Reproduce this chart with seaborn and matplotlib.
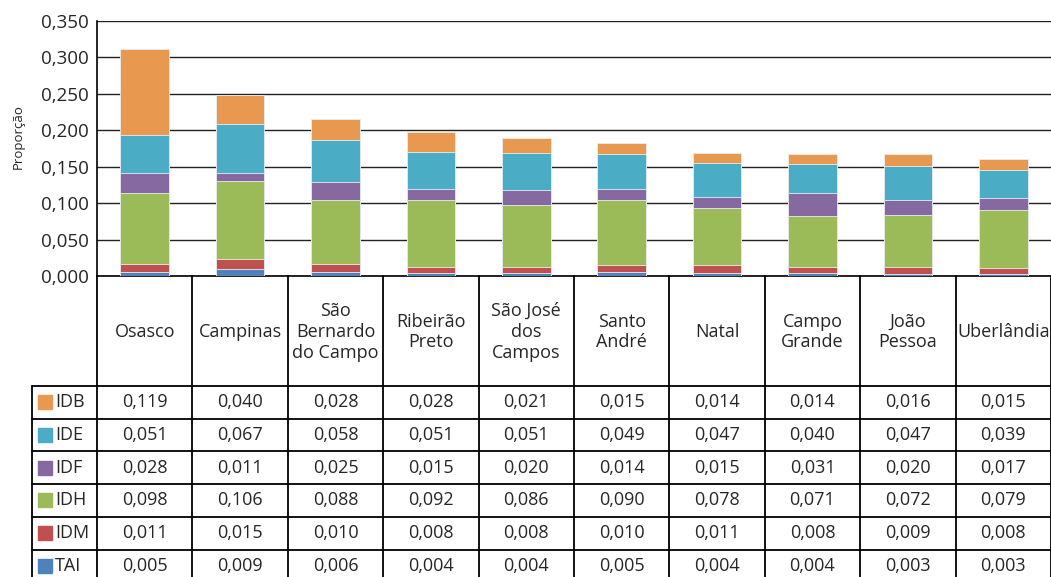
import numpy as np
import matplotlib
matplotlib.use("Agg")
import matplotlib.pyplot as plt
import seaborn as sns
from matplotlib.patches import Rectangle

# ---- Dados ----
CIDADES = ["Osasco", "Campinas", "São Bernardo do Campo", "Ribeirão Preto",
           "São José dos Campos", "Santo André", "Natal", "Campo Grande",
           "João Pessoa", "Uberlândia"]
ROTULOS = ["Osasco", "Campinas", "São\nBernardo\ndo Campo", "Ribeirão\nPreto",
           "São José\ndos\nCampos", "Santo\nAndré", "Natal", "Campo\nGrande",
           "João\nPessoa", "Uberlândia"]

TAI = [0.005, 0.009, 0.006, 0.004, 0.004, 0.005, 0.004, 0.004, 0.003, 0.003]
IDM = [0.011, 0.015, 0.010, 0.008, 0.008, 0.010, 0.011, 0.008, 0.009, 0.008]
IDH = [0.098, 0.106, 0.088, 0.092, 0.086, 0.090, 0.078, 0.071, 0.072, 0.079]
IDF = [0.028, 0.011, 0.025, 0.015, 0.020, 0.014, 0.015, 0.031, 0.020, 0.017]
IDE = [0.051, 0.067, 0.058, 0.051, 0.051, 0.049, 0.047, 0.040, 0.047, 0.039]
IDB = [0.119, 0.040, 0.028, 0.028, 0.021, 0.015, 0.014, 0.014, 0.016, 0.015]

# de baixo para cima
SERIES = ["TAI", "IDM", "IDH", "IDF", "IDE", "IDB"]
VALORES = [TAI, IDM, IDH, IDF, IDE, IDB]
CORES = ["#4F81BD", "#C0504D", "#9BBB59", "#8569A0", "#4BACC6", "#E8994F"]

YTICKS = [0.0, 0.05, 0.10, 0.15, 0.20, 0.25, 0.30, 0.35]

W, H = 1051, 577
sns.set_style("white")
plt.rcParams["font.family"] = ["Open Sans", "DejaVu Sans"]
FS = 13

fig = plt.figure(figsize=(W / 100, H / 100), dpi=100)

# ---- Grafico de barras empilhadas ----
x0, x1, y_top, y_bot = 97, 1051, 21, 276
ax = fig.add_axes([x0 / W, (H - y_bot) / H, (x1 - x0) / W, (y_bot - y_top) / H])

acum = np.cumsum(np.array(VALORES), axis=0)
for i in range(len(SERIES) - 1, -1, -1):
    sns.barplot(x=CIDADES, y=acum[i], order=CIDADES, color=CORES[i],
                saturation=1, width=0.51, edgecolor="#e8eef0", linewidth=0.6,
                ax=ax, zorder=3)

ax.set_xlim(-0.5, 9.5)
ax.set_ylim(0, 0.35)
ax.set_yticks(YTICKS)
ax.set_yticklabels([f"{v:.3f}".replace(".", ",") for v in YTICKS], fontsize=13.5)
ax.tick_params(axis="y", length=0, pad=6)
ax.set_xticks([])
ax.set_xlabel("")
ax.set_ylabel("Proporção", fontsize=9.5, va="center")
ax.yaxis.set_label_coords((18 - x0) / (x1 - x0), (y_bot - 137) / (y_bot - y_top))
ax.yaxis.grid(True, color="#222222", linewidth=1)
ax.set_axisbelow(True)
for s in ["right", "top"]:
    ax.spines[s].set_visible(False)
ax.spines["left"].set_color("black")
ax.spines["bottom"].set_color("black")
ax.spines["left"].set_linewidth(1.2)
ax.spines["bottom"].set_linewidth(1.2)

# ---- Tabela ----
ov = fig.add_axes([0, 0, 1, 1])
ov.set_xlim(0, W)
ov.set_ylim(H, 0)
ov.axis("off")

col_w = (x1 - x0) / 10
header_bot = 386
row_h = 32.7
n_rows = len(SERIES)
table_bot = header_bot + row_h * n_rows

lc = "black"
lw = 1.3
for k in range(11):
    xx = x0 + k * col_w
    ov.plot([xx, xx], [y_bot, table_bot], color=lc, lw=lw)
ov.plot([32, 32], [header_bot, table_bot], color=lc, lw=lw)
for r in range(n_rows + 1):
    yy = header_bot + r * row_h
    ov.plot([32, x1], [yy, yy], color=lc, lw=lw)

for k, lab in enumerate(ROTULOS):
    ov.text(x0 + (k + 0.5) * col_w, (y_bot + header_bot) / 2 + 1, lab,
            ha="center", va="center", fontsize=FS, linespacing=1.2)

# linhas da tabela: de cima para baixo (IDB ... TAI)
for r, i in enumerate(range(n_rows - 1, -1, -1)):
    yc = header_bot + (r + 0.5) * row_h
    ov.add_patch(Rectangle((38, yc - 7), 14, 14, color=CORES[i]))
    ov.text(55, yc, SERIES[i], ha="left", va="center", fontsize=FS)
    for k, v in enumerate(VALORES[i]):
        ov.text(x0 + (k + 0.5) * col_w, yc, f"{v:.3f}".replace(".", ","),
                ha="center", va="center", fontsize=FS)

fig.savefig("out.png", dpi=100)
